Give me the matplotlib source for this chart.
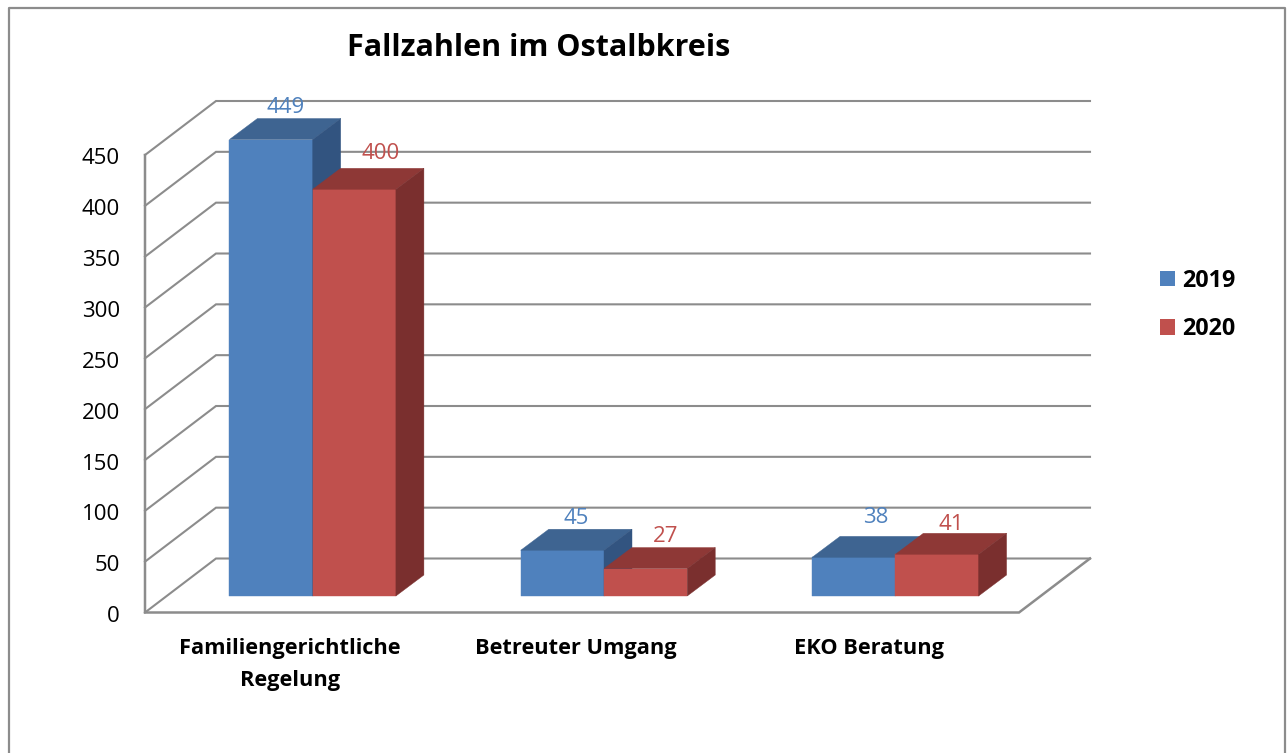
import matplotlib
matplotlib.use('Agg')
import matplotlib.pyplot as plt
from matplotlib.lines import Line2D
from matplotlib.patches import Patch, Polygon
from matplotlib.transforms import ScaledTranslation

plt.rcParams['font.family'] = ['Open Sans', 'DejaVu Sans']

categories = ['Familiengerichtliche\nRegelung', 'Betreuter Umgang', 'EKO Beratung']
years = ['2019', '2020']
values_2019 = [449, 45, 38]
values_2020 = [400, 27, 41]
y_ticks = [0, 50, 100, 150, 200, 250, 300, 350, 400, 450]

W, H = 1287, 753
# front plane of the fake 3d box, in pixels
left, right, bottom, top = 145, 1019, 612.5, 155

# pixels -> data units
px_x = 3 / (right - left)
px_y = 450 / (bottom - top)

wall_dx, wall_dy = 71 * px_x, 54 * px_y
bar_dx, bar_dy = 28 * px_x, 21 * px_y
shift_x, shift_y = 22.0 * px_x, 16.5 * px_y
bar_w = 1 / 3.5

grid_c = '#8c8c8c'
colors = {
    '2019': ('#4f81bd', '#3e6491', '#325480'),
    '2020': ('#c0504d', '#8e3836', '#7a2f2e'),
}
# label nudges in pixels, the labels do not sit exactly over the bars
nudge = {'2019': [(1, 11), (0, 11), (8, 19)], '2020': [(12, 15), (6, 11), (0, 9)]}

fig = plt.figure(figsize=(W / 100, H / 100), dpi=100)
ax = fig.add_axes([left / W, 1 - bottom / H, (right - left) / W, (bottom - top) / H])
ax.set_xlim(0, 3)
ax.set_ylim(0, 450)
for s in ax.spines.values():
    s.set_visible(False)
ax.patch.set_visible(False)

# outer frame, open at the bottom
fig.add_artist(Line2D([9 / W, 9 / W, 1285 / W, 1285 / W], [0, 1 - 8 / H, 1 - 8 / H, 0],
                      color='#8c8c8c', lw=1.6))

# walls and grid
for t in y_ticks:
    ax.plot([0, wall_dx, 3 + wall_dx], [t, t + wall_dy, t + wall_dy],
            color=grid_c, lw=1.5, clip_on=False, zorder=1, solid_joinstyle='miter')
ax.plot([0, 0, 3, 3 + wall_dx], [450, 0, 0, wall_dy], color=grid_c, lw=1.8, clip_on=False,
        zorder=1, solid_joinstyle='miter')


def draw_bar(x0, v, front, topc, side):
    x = x0 + shift_x
    y0 = shift_y
    y1 = shift_y + v
    faces = [
        ([(x, y0), (x + bar_w, y0), (x + bar_w, y1), (x, y1)], front),
        ([(x, y1), (x + bar_w, y1), (x + bar_w + bar_dx, y1 + bar_dy), (x + bar_dx, y1 + bar_dy)], topc),
        ([(x + bar_w, y0), (x + bar_w + bar_dx, y0 + bar_dy), (x + bar_w + bar_dx, y1 + bar_dy), (x + bar_w, y1)], side),
    ]
    for pts, c in faces:
        ax.add_patch(Polygon(pts, closed=True, facecolor=c, edgecolor=c, lw=0.3, clip_on=False, zorder=2))
    return x + bar_dx / 2 + bar_w / 2, y1 + bar_dy


for k, (year, vals) in enumerate(zip(years, [values_2019, values_2020])):
    for i, v in enumerate(vals):
        x0 = i + 0.5 - bar_w + k * bar_w
        lx, ly = draw_bar(x0, v, *colors[year])
        nx, ny = nudge[year][i]
        ax.annotate(str(v), (lx, ly), xytext=(nx * 0.72, ny * 0.72), textcoords='offset points',
                    ha='center', va='center', fontsize=16, color=colors[year][0], zorder=5,
                    annotation_clip=False)

ax.set_yticks(y_ticks)
ax.tick_params(axis='y', length=0, pad=18, labelsize=16)
ax.set_xticks([])
# tick labels sit a little under their grid line
for lab in ax.get_yticklabels():
    lab.set_transform(lab.get_transform() + ScaledTranslation(0, -1.5 / 100, fig.dpi_scale_trans))

# category labels, offsets in px
label_dx = [-1, -6, -4]
for i, name in enumerate(categories):
    ax.annotate(name, (i + 0.5, 0), xytext=(label_dx[i] * 0.72, -18.5), textcoords='offset points',
                ha='center', va='top', fontsize=15.7, fontweight='bold', linespacing=1.7,
                annotation_clip=False)

fig.text(538.5 / W, 1 - 48 / H, 'Fallzahlen im Ostalbkreis', ha='center', va='center',
         fontsize=22, fontweight='bold')

handles = [Patch(facecolor=colors[y][0], edgecolor='none', label=y) for y in years]
fig.legend(handles=handles, loc='center left', bbox_to_anchor=(1153 / W, 1 - 305 / H), frameon=False,
           handlelength=0.66, handleheight=0.66, handletextpad=0.27, labelspacing=1.05,
           prop={'size': 16.8, 'weight': 'bold'}, borderpad=0.3, borderaxespad=0)

fig.savefig('out.png', dpi=100)
